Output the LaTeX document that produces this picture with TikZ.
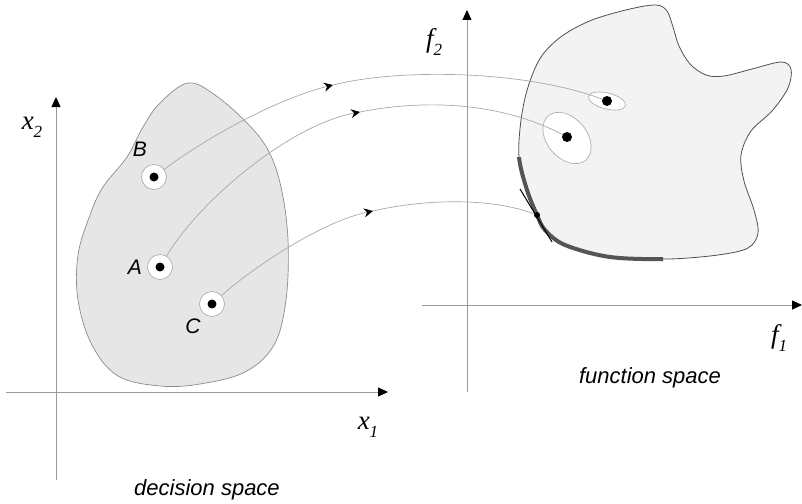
\documentclass[tikz,border=0pt]{standalone}
\usepackage{fontspec}
\setmainfont{Liberation Sans}
\newfontfamily\timesfont{Liberation Serif}
\usepackage{tikz}
\usetikzlibrary{arrows.meta, shapes.geometric, calc}

\definecolor{axisgray}{HTML}{9A9A9A}
\definecolor{mapgray}{HTML}{A8A8A8}
\definecolor{ringgray}{HTML}{A8A8A8}
\definecolor{decfill}{HTML}{E6E6E6}
\definecolor{decline}{HTML}{8C8C8C}
\definecolor{funfill}{HTML}{F3F3F3}
\definecolor{funline}{HTML}{505050}
\definecolor{frontgray}{HTML}{555555}

\newcommand{\axlabel}[2]{{\timesfont\itshape\fontsize{27}{27}\selectfont
  #1\raisebox{-0.3em}{\fontsize{17}{17}\selectfont #2}}}

\begin{document}
\begin{tikzpicture}[x=1pt, y=-1pt,
  axis/.style={draw=axisgray, line width=0.8pt,
               -{Triangle[length=10pt, width=9pt, color=black]}},
  map/.style={draw=mapgray, line width=0.7pt},
  maptip/.style={map, -{Stealth[length=9pt, width=9pt, inset=3pt, color=black]}},
  pt/.style={circle, draw=ringgray, fill=white, line width=0.6pt,
             minimum size=25pt, inner sep=0pt},
  img/.style={ellipse, draw=ringgray, fill=white, line width=0.6pt, inner sep=0pt},
  dot/.style={circle, fill=black, inner sep=0pt, minimum size=#1},
  lab/.style={font=\fontsize{21}{21}\selectfont\itshape},
  space/.style={font=\fontsize{22}{22}\selectfont\itshape}
]
  \useasboundingbox (0,0) rectangle (802,503);

  % decision space
  \draw[axis] (6,392) -- (388,392);
  \draw[axis] (56,480) -- (56,97);
  \node at (368,427) {\axlabel{x}{1}};
  \node at (32,127)  {\axlabel{x}{2}};
  \node[space] (dspace) at (207,490) {decision space};

  \draw[fill=decfill, draw=decline, line width=0.7pt]
    plot[smooth cycle, tension=0.6] coordinates {
      (188,83) (215,95) (247,123) (268,150) (281,187) (288,240) (286,300)
      (274,345) (245,372) (200,384) (160,386) (118,376) (92,345) (78,300)
      (78,255) (90,215) (103,187) (127,157) (143,127) (160,103)};

  % function space
  \draw[axis] (422,305) -- (802,305);
  \draw[axis] (467,392) -- (467,10);
  \node at (779,338) {\axlabel{f}{1}};
  \node at (434,42)  {\axlabel{f}{2}};
  \node[space] (fspace) at (650,378) {function space};

  \path[save path=\funpath]
    plot[smooth cycle, tension=0.55] coordinates {
      (519,157) (521,120) (528,87) (541,57) (562,36) (592,20) (630,9)
      (656,5) (667,11) (673,27) (679,46) (690,64) (706,75) (724,76)
      (752,69) (781,62) (791,69) (788,88) (772,111) (751,131) (741,155)
      (744,181) (754,210) (758,233) (748,248) (718,255) (668,259)
      (610,257) (565,245) (545,230) (537,215) (527,190)};
  \path[use path=\funpath, fill=funfill, draw=funline, line width=0.8pt];
  \begin{scope}
    \clip (505,157) rectangle (663,272);
    \path[use path=\funpath, draw=frontgray, line width=4pt];
  \end{scope}

  % images of the points
  \node[img, minimum width=38pt, minimum height=16pt, rotate=-14] (ellB) at (607,101) {};
  \node[img, minimum width=58pt, minimum height=40pt, rotate=-50] (ellA) at (567,138) {};
  \coordinate (imgB) at (607,101);
  \coordinate (imgA) at (567,137);
  \coordinate (tanS) at (520,189);
  \coordinate (tanE) at (552,242);
  \draw[black, line width=1pt] (tanS) -- (tanE);

  % decision points
  \node[pt] (ptB) at (154,177) {};
  \node[pt] (ptA) at (160,267) {};
  \node[pt] (ptC) at (212,304) {};
  \node[lab] at (140,149) {B};
  \node[lab] at (135,267) {A};
  \node[lab] at (193,326) {C};

  % mapping curves
  \coordinate (midB) at (333,85);
  \coordinate (midA) at (360,112);
  \coordinate (midC) at (373,211);
  \draw[maptip] (ptB) .. controls (210,135) and (280,98) .. (midB);
  \draw[map] (midB) .. controls (400,68) and (530,70) .. (imgB);
  \draw[maptip] (ptA) .. controls (200,200) and (290,125) .. (midA);
  \draw[map] (midA) .. controls (420,100) and (500,100) .. (imgA);
  \draw[maptip] (ptC) .. controls (250,270) and (320,222) .. (midC);
  \draw[map] (midC) .. controls (420,200) and (490,196) .. (537,215);

  \node[dot=9pt] at (ptB) {};
  \node[dot=9pt] at (ptA) {};
  \node[dot=9pt] at (ptC) {};
  \node[dot=10pt] at (imgB) {};
  \node[dot=10pt] at (imgA) {};
  \node[dot=6pt] (imgC) at (537,215) {};
\end{tikzpicture}
\end{document}
